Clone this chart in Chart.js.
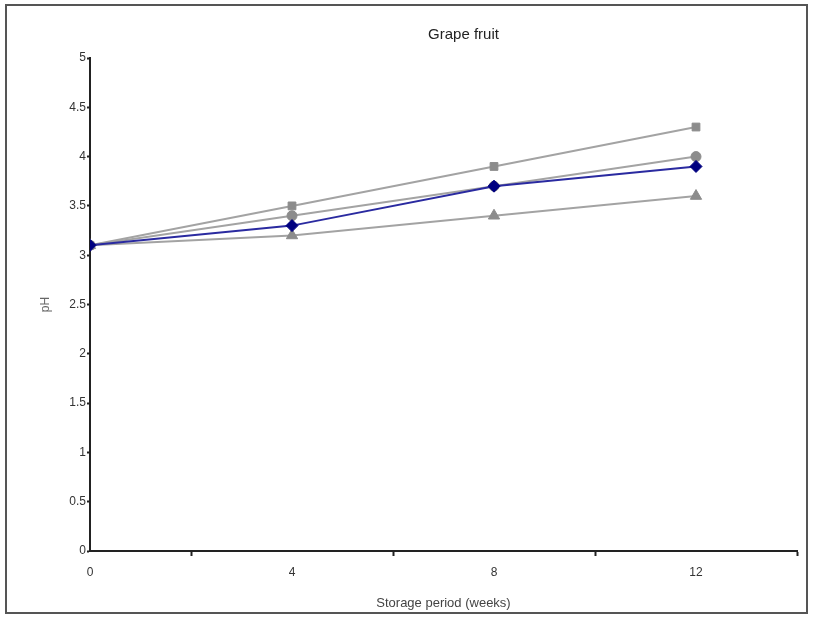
<!DOCTYPE html>
<html>
<head>
<meta charset="utf-8">
<script src="https://cdn.jsdelivr.net/npm/chart.js@4"></script>
<style>
  html, body { margin: 0; padding: 0; background: #fff; }
  #frame {
    position: absolute; left: 5px; top: 4px;
    width: 799px; height: 606px;
    border: 2px solid #555;
  }
  canvas { display: block; }
</style>
</head>
<body>
<div id="frame"><canvas id="chart" width="799" height="606"></canvas></div>
<script>
// storage period (weeks) and pH readings per sample
const weeks = [0, 4, 8, 12];
const phDiamond = [3.1, 3.3, 3.7, 3.9];
const phSquare = [3.1, 3.5, 3.9, 4.3];
const phCircle = [3.1, 3.4, 3.7, 4.0];
const phTriangle = [3.1, 3.2, 3.4, 3.6];

const gray = '#8c8c8c';
const lineGray = '#a3a3a3';
const textColor = '#333';
const fontFamily = '"Liberation Sans", Arial, sans-serif';

function points(values) {
    return weeks.map((w, i) => ({ x: w, y: values[i] }));
}

function series(values, style, color, lineColor, radius) {
    return {
        data: points(values),
        borderColor: lineColor,
        borderWidth: 2,
        pointStyle: style,
        pointRadius: radius,
        pointBackgroundColor: color,
        pointBorderColor: color,
        pointBorderWidth: 1,
        tension: 0,
        fill: false
    };
}

// the title sits a bit right of the canvas centre in the original
const shiftTitle = {
    id: 'shiftTitle',
    afterLayout(chart) {
        if (chart.titleBlock) chart.titleBlock.left = 123;
    }
};

new Chart(document.getElementById('chart'), {
    type: 'line',
    data: {
        datasets: [
            series(phDiamond, 'rectRot', '#000080', '#2a2aa0', 6),
            series(phSquare, 'rect', gray, lineGray, 5.5),
            series(phCircle, 'circle', gray, lineGray, 5),
            series(phTriangle, 'triangle', gray, lineGray, 6.5)
        ]
    },
    plugins: [shiftTitle],
    options: {
        responsive: false,
        animation: false,
        layout: { padding: { left: 0, right: 9, top: 0, bottom: 0 } },
        plugins: {
            legend: { display: false },
            tooltip: { enabled: false },
            title: {
                display: true,
                text: 'Grape fruit',
                color: '#222',
                font: { family: fontFamily, size: 15, weight: 'normal', lineHeight: 1.2 },
                padding: { top: 20, bottom: 14 }
            }
        },
        scales: {
            x: {
                type: 'linear',
                min: 0,
                max: 14,
                afterFit: s => { s.height = 61; },
                border: { color: '#222', width: 2 },
                grid: {
                    drawOnChartArea: false,
                    tickLength: 5,
                    tickWidth: 2,
                    tickColor: ctx => (ctx.tick && ctx.tick.value % 4 !== 0) ? '#222' : 'rgba(0,0,0,0)'
                },
                ticks: {
                    stepSize: 2,
                    autoSkip: false,
                    maxRotation: 0,
                    padding: 9,
                    color: textColor,
                    font: { family: fontFamily, size: 12 },
                    callback: v => (v % 4 === 0 && v < 14) ? String(v) : ''
                },
                title: {
                    display: true,
                    text: 'Storage period (weeks)',
                    color: '#444',
                    font: { family: fontFamily, size: 13, lineHeight: 1.2 },
                    padding: { top: 0, bottom: 1 }
                }
            },
            y: {
                min: 0,
                max: 5,
                afterFit: s => { s.width = 83; },
                border: { color: '#222', width: 2 },
                grid: {
                    drawOnChartArea: false,
                    tickLength: 3,
                    tickWidth: 2,
                    tickColor: '#222'
                },
                ticks: {
                    stepSize: 0.5,
                    padding: 1,
                    color: textColor,
                    font: { family: fontFamily, size: 12 },
                    callback: v => String(Math.round(v * 10) / 10)
                },
                title: {
                    display: true,
                    text: 'pH',
                    color: '#666',
                    font: { family: fontFamily, size: 12, lineHeight: 1.2 },
                    padding: { top: 31, bottom: 0 }
                }
            }
        }
    }
});
</script>
</body>
</html>
